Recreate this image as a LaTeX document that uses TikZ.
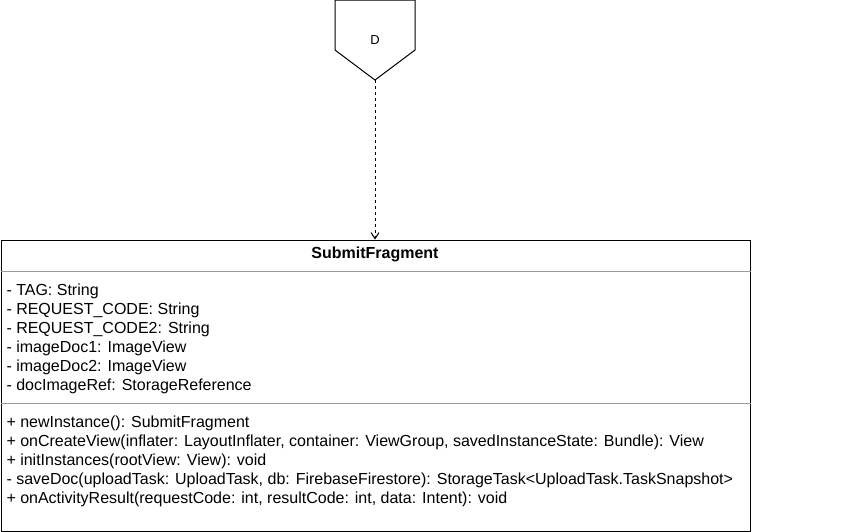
\documentclass[tikz,border=0pt]{standalone}
\usepackage{fontspec}
\setmainfont{Liberation Sans}
\usetikzlibrary{arrows.meta,positioning,calc}
\definecolor{RuleGray}{RGB}{155,155,155}

\begin{document}
\begin{tikzpicture}[x=1pt,y=-1pt,line width=1pt,
    member/.style={anchor=base west,inner sep=0pt,font=\fontsize{16}{18}\selectfont}]
  \useasboundingbox (0,0) rectangle (844,531);
  % off-page reference
  \draw (335,0)--(415,0)--(415,50)--(375,80)--(335,50)--cycle;
  \node[font=\fontsize{13}{15}\selectfont] (refD) at (375,40) {D};
  \coordinate (refTip) at (375,80);
  % class box
  \node[draw,minimum width=749pt,minimum height=291pt,inner sep=0pt,anchor=north west] (cls) at (0.5,239.5) {};
  \node[anchor=base,inner sep=0pt,font=\bfseries\fontsize{16}{18}\selectfont] (clsName) at (375,258) {SubmitFragment};
  \draw[RuleGray] (cls.west|-0,271) -- (cls.east|-0,271);
  \draw[RuleGray] (cls.west|-0,403) -- (cls.east|-0,403);
  \foreach \t [count=\i] in {- TAG: String,
      - REQUEST\_CODE: String,
      - REQUEST\_CODE2: String,
      - imageDoc1: ImageView,
      - imageDoc2: ImageView,
      - docImageRef: StorageReference}
    \node[member] (attr\i) at (6,276+19*\i) {\t};
  \foreach \t [count=\i] in {+ newInstance(): SubmitFragment,
      {+ onCreateView(inflater: LayoutInflater, container: ViewGroup, savedInstanceState: Bundle): View},
      + initInstances(rootView: View): void,
      {- saveDoc(uploadTask: UploadTask, db: FirebaseFirestore): StorageTask<UploadTask.TaskSnapshot>},
      {+ onActivityResult(requestCode: int, resultCode: int, data: Intent): void}}
    \node[member] (meth\i) at (6,408+19*\i) {\t};
  % dependency
  \draw[dash pattern=on 3pt off 3pt,-{Straight Barb[length=6pt,width=8pt]}] (refTip) -- (cls.north-|refTip);
\end{tikzpicture}
\end{document}
